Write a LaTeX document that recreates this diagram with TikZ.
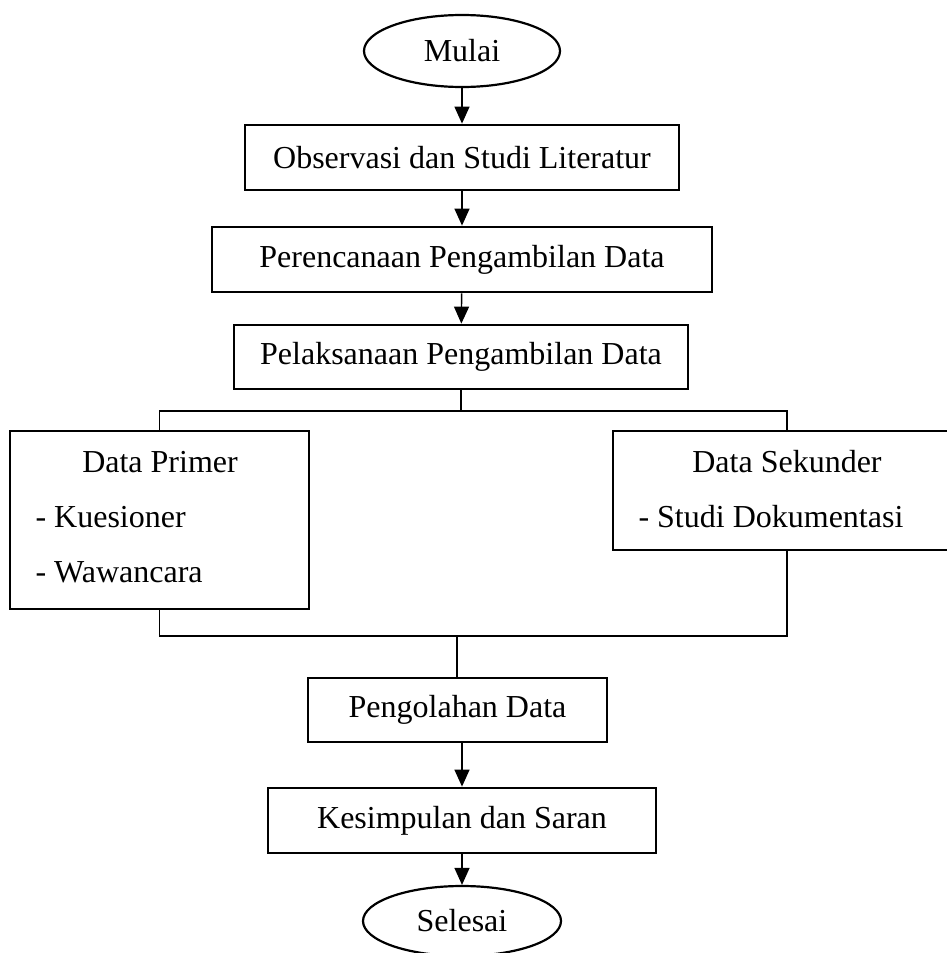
\documentclass[tikz,border=0pt]{standalone}
\usepackage{fontspec}
\setmainfont{Liberation Serif}
\usetikzlibrary{arrows.meta,shapes.geometric}

\begin{document}
\begin{tikzpicture}[x=1pt, y=-1pt, every node/.style={font=\fontsize{32}{38}\selectfont},
  box/.style={draw, line width=2.8pt, inner sep=0pt},
  term/.style={ellipse, draw, line width=2.2pt, inner sep=0pt, minimum width=196pt, minimum height=72pt},
  flow/.style={line width=1.4pt, -{Triangle[length=17pt,width=15pt]}},
  link/.style={line width=1.4pt}]
  \useasboundingbox (0,0) rectangle (947,953);

  % START AND FIRST STEPS
  \node[term] (mulai) at (462,51) {Mulai};
  \node[box, minimum width=434pt, minimum height=65pt] (obs) at (462,157.5) {Observasi dan Studi Literatur};
  \node[box, minimum width=500pt, minimum height=65pt] (rencana) at (462,259.5) {Perencanaan Pengambilan Data};
  \node[box, minimum width=454pt, minimum height=64pt] (laksana) at (461,357) {Pelaksanaan Pengambilan Data};

  \draw[flow] (mulai) -- (obs);
  \draw[flow] (obs) -- (rencana);
  \draw[flow] (rencana) -- (laksana);

  % DATA BOXES
  \node[box, minimum width=299pt, minimum height=178pt] (primer) at (159.5,520) {};
  \node[anchor=base] (primerjudul) at (160,472) {Data Primer};
  \node[anchor=base west] (kuesioner) at (32,527) {- Kuesioner};
  \node[anchor=base west] (wawancara) at (32,582) {- Wawancara};

  \node[box, minimum width=348pt, minimum height=119pt] (sekunder) at (787,490.5) {};
  \node[anchor=base] (sekunderjudul) at (787,472) {Data Sekunder};
  \node[anchor=base west] (dokumentasi) at (635,527) {- Studi Dokumentasi};

  % SPLIT AND MERGE LINES
  \coordinate (pisah) at (461,411);
  \coordinate (gabung) at (457,636);
  \draw[link] (laksana.south) -- (pisah);
  \draw[link] (primer.north) |- (pisah) -| (sekunder.north);
  \draw[link] (primer.south) |- (gabung) -| (sekunder.south);

  % LAST STEPS
  \node[box, minimum width=299pt, minimum height=64pt] (olah) at (457.5,710) {Pengolahan Data};
  \node[box, minimum width=388pt, minimum height=65pt] (simpul) at (462,820.5) {Kesimpulan dan Saran};
  \node[term, minimum width=198pt, minimum height=70pt] (selesai) at (462,921) {Selesai};

  \draw[link] (gabung) -- (olah.north -| gabung);
  \draw[flow] (olah.south -| simpul.north) -- (simpul.north);
  \draw[flow] (simpul) -- (selesai);
\end{tikzpicture}
\end{document}
